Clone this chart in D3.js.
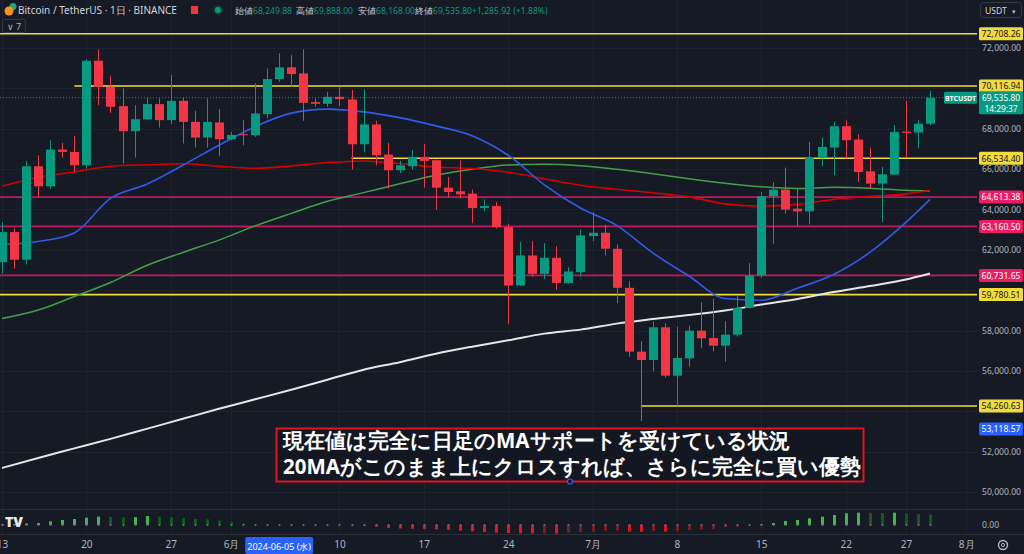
<!DOCTYPE html>
<html>
<head>
<meta charset="utf-8">
<script src="https://cdn.jsdelivr.net/npm/d3@7"></script>
<style>
html, body { margin: 0; padding: 0; background: #161a25; overflow: hidden; }
svg { display: block; }
text { font-family: "Noto Sans", "DejaVu Sans", sans-serif; }
</style>
</head>
<body>
<div id="chart"></div>
<script>
// BTCUSDT daily candles, 2024-05-13 .. 2024-07-29
const days = [
  "2024-05-13","2024-05-14","2024-05-15","2024-05-16","2024-05-17","2024-05-18","2024-05-19","2024-05-20","2024-05-21","2024-05-22",
  "2024-05-23","2024-05-24","2024-05-25","2024-05-26","2024-05-27","2024-05-28","2024-05-29","2024-05-30","2024-05-31","2024-06-01",
  "2024-06-02","2024-06-03","2024-06-04","2024-06-05","2024-06-06","2024-06-07","2024-06-08","2024-06-09","2024-06-10","2024-06-11",
  "2024-06-12","2024-06-13","2024-06-14","2024-06-15","2024-06-16","2024-06-17","2024-06-18","2024-06-19","2024-06-20","2024-06-21",
  "2024-06-22","2024-06-23","2024-06-24","2024-06-25","2024-06-26","2024-06-27","2024-06-28","2024-06-29","2024-06-30","2024-07-01",
  "2024-07-02","2024-07-03","2024-07-04","2024-07-05","2024-07-06","2024-07-07","2024-07-08","2024-07-09","2024-07-10","2024-07-11",
  "2024-07-12","2024-07-13","2024-07-14","2024-07-15","2024-07-16","2024-07-17","2024-07-18","2024-07-19","2024-07-20","2024-07-21",
  "2024-07-22","2024-07-23","2024-07-24","2024-07-25","2024-07-26","2024-07-27","2024-07-28","2024-07-29"
];
const opens = [
  61388,62878,61507,66140,65147,66969,66850,66190,71370,70078,
  69120,67878,68459,69219,68425,69383,68340,67565,68310,67481,
  67729,67680,68722,70460,71042,70741,69318,69234,69582,69450,
  67230,68211,66719,65942,66140,66603,66438,65080,64899,64783,
  64069,64168,63126,60230,61720,60810,61605,60346,60893,62681,
  62847,62053,60117,56954,56541,58160,55762,56620,57995,57630,
  57251,57797,59124,60727,64650,64983,64040,63905,66572,67068,
  68127,67465,65892,65281,65727,67860,67812,68249.88
];
const highs = [
  63374,63047,66400,66686,67431,67297,67630,71440,71935,70610,
  69999,69169,69552,69502,70659,69552,68886,69502,68971,67845,
  68425,70247,70992,71737,71652,71935,69502,69830,70110,69914,
  69949,68390,67297,66404,66935,67233,66470,65609,66438,64983,
  64487,64368,63291,62381,62430,62331,62170,61140,62997,63871,
  63242,62268,60445,57465,58458,58359,58193,58243,59402,59571,
  58458,59733,61338,64866,65360,66075,65030,67347,67565,68340,
  68425,67729,67069,66106,68176,69383,68425,69888
];
const lows = [
  60827,61060,61273,64616,65030,66572,65857,66026,69169,68787,
  66274,66572,68425,68062,68226,67268,67069,67069,66637,67431,
  67183,67596,68509,70327,70078,68390,69085,69085,69120,65976,
  66850,66190,65030,65807,65976,65083,63990,64588,64537,63325,
  63920,63050,58330,60200,60677,60562,60015,60330,60644,62430,
  61720,59352,56705,53510,55975,55677,54260.63,56209,57136,56967,
  56457,57698,59100,60612,62300,63791,63160,63260,66140,65693,
  66522,65360,65030,63374,65700,66572,67019,68168
];
const closes = [
  62878,61507,66140,65147,66969,66850,66190,71370,70078,69085,
  67878,68474,69219,68425,69383,68340,67565,68340,67481,67696,
  67680,68757,70460,71042,70709,69284,69234,69582,69467,67230,
  68211,66686,65942,66190,66603,66404,65080,64866,64750,64069,
  64168,63126,60230,61720,60810,61605,60363,60926,62714,62847,
  62053,60117,56954,56541,58160,55762,56640,57995,57614,57251,
  57797,59124,60727,64667,64983,63990,63905,66572,67099,68127,
  67431,65857,65281,65743,67844,67794,68249.88,69535.80
];

// moving averages, read every third day
const maDays = [
  "2024-05-13","2024-05-16","2024-05-19","2024-05-22","2024-05-25","2024-05-28","2024-05-31","2024-06-03","2024-06-06",
  "2024-06-09","2024-06-12","2024-06-15","2024-06-18","2024-06-21","2024-06-24","2024-06-27","2024-06-30","2024-07-03",
  "2024-07-06","2024-07-09","2024-07-12","2024-07-15","2024-07-18","2024-07-21","2024-07-24","2024-07-27","2024-07-29"
];
const ma20 = [62267,62416,62838,64551,65246,66190,67183,68102,68772,68971,68837,68549,68141,67655,66686,65221,64069,63210,61845,60702,59585,59501,60097,60777,61869,63359,64501];
const ma50 = [65147,65594,65857,66140,66215,66264,66140,66041,66155,66324,66403,66274,66105,66026,65842,65519,65197,64998,64824,64625,64278,64169,64253,64501,64650,64774,64948];
const ma100 = [58592,59014,59684,60380,61224,61869,62480,63185,63806,64402,64834,65271,65693,65991,66205,66239,66165,65991,65768,65519,65296,65122,65038,65097,65048,64948,64914];
const ma200 = [51192,51689,52161,52633,53129,53626,54122,54594,55066,55563,56059,56432,56854,57201,57514,57847,58046,58343,58567,58766,58989,59287,59560,59908,60206,60529,60826];

// lower pane histogram
const osc = [
  0.5,1.0,1.5,2.0,3.7,5.0,6.0,7.3,8.4,8.1,
  7.6,7.8,9.0,8.4,7.7,7.0,6.0,5.7,4.3,2.7,
  1.7,0.8,0.7,0.6,0.5,0.4,0.3,0.2,0.1,-0.3,
  -1.0,-1.7,-3.0,-3.5,-3.7,-3.9,-4.3,-5.0,-5.7,-6.3,
  -7.0,-7.7,-8.0,-8.2,-8.5,-8.3,-8.6,-7.7,-7.0,-6.7,
  -5.8,-5.6,-6.5,-6.8,-6.0,-6.6,-6.0,-5.0,-4.3,-4.0,
  -2.0,-1.7,-1.0,0.7,2.0,4.0,5.0,6.7,8.3,10.0,
  11.7,12.4,12.2,12.0,12.4,11.7,11.0,10.3
];

// horizontal levels drawn on the chart
const yellowLevels = [72708.26, 70116.94, 66534.40, 59780.51, 54260.63];
const yellowStarts = ["2024-05-08", "2024-05-19", "2024-06-11", "2024-05-08", "2024-07-05"];
const pinkLevels = [64613.38, 63160.50, 60731.65];

const priceTicks = d3.range(50000, 72001, 2000);
const tickDays = ["2024-05-13","2024-05-20","2024-05-27","2024-06-01","2024-06-10","2024-06-17","2024-06-24","2024-07-01","2024-07-08","2024-07-15","2024-07-22","2024-07-27","2024-08-01"];
const tickLabels = ["13","20","27","6月","10","17","24","7月","8","15","22","27","8月"];

const lastPrice = 69535.80;
const crossPrice = 53118.57;
const crossDay = "2024-06-05";

const width = 1024;
const height = 554;
const plotRight = 977;

const up = "#089981";
const down = "#f23645";
const yellow = "#efdb3b";
const pink = "#c2185b";
const axisFont = 8.6;

const parse = d3.utcParse("%Y-%m-%d");
const fmt = d3.format(",.2f");

const svg = d3.select("#chart").append("svg")
  .attr("width", width)
  .attr("height", height);

svg.append("rect").attr("width", width).attr("height", height).attr("fill", "#161a25");

const x = d3.scaleUtc()
  .domain([parse(days[0]), parse(days[days.length - 1])])
  .range([2, 930]);
const y = d3.scaleLinear().domain([50000, 72000]).range([492, 48]);
const yOsc = d3.scaleLinear().domain([-10, 14]).range([535, 511]);

svg.append("clipPath").attr("id", "plot")
  .append("rect").attr("x", 0).attr("y", 0).attr("width", plotRight).attr("height", 509);

// grid
const grid = svg.append("g").attr("stroke", "#1f2330").attr("stroke-width", 1);
grid.selectAll("line.h").data(priceTicks).enter().append("line")
  .attr("x1", 0).attr("x2", plotRight)
  .attr("y1", d => Math.round(y(d)) + 0.5).attr("y2", d => Math.round(y(d)) + 0.5);
grid.selectAll("line.v").data(tickDays).enter().append("line")
  .attr("x1", d => Math.round(x(parse(d))) + 0.5).attr("x2", d => Math.round(x(parse(d))) + 0.5)
  .attr("y1", 0).attr("y2", 534);

const plot = svg.append("g").attr("clip-path", "url(#plot)");

// levels
plot.selectAll("line.yl").data(yellowLevels).enter().append("line")
  .attr("x1", (d, i) => x(parse(yellowStarts[i])))
  .attr("x2", plotRight)
  .attr("y1", d => y(d)).attr("y2", d => y(d))
  .attr("stroke", yellow).attr("stroke-width", 1.6);
plot.selectAll("line.pl").data(pinkLevels).enter().append("line")
  .attr("x1", 0).attr("x2", plotRight)
  .attr("y1", d => y(d)).attr("y2", d => y(d))
  .attr("stroke", pink).attr("stroke-width", 1.6);

// current price dotted line
plot.append("line")
  .attr("x1", 0).attr("x2", plotRight)
  .attr("y1", y(lastPrice)).attr("y2", y(lastPrice))
  .attr("stroke", up).attr("stroke-width", 1).attr("stroke-dasharray", "1,2");

// moving averages
const maLine = d3.line()
  .x((d, i) => x(parse(maDays[i])))
  .y(d => y(d))
  .curve(d3.curveMonotoneX);
[[ma200, "#e6e6e6", 2], [ma100, "#43a047", 1.5], [ma50, "#d50000", 1.6], [ma20, "#2f5bea", 1.6]]
  .forEach(([vals, col, w]) => {
    plot.append("path").datum(vals)
      .attr("d", maLine)
      .attr("fill", "none")
      .attr("stroke", col)
      .attr("stroke-width", w);
  });

// candles
const candle = plot.append("g").selectAll("g").data(days).enter().append("g");
candle.append("line")
  .attr("x1", d => Math.round(x(parse(d))) + 0.5)
  .attr("x2", d => Math.round(x(parse(d))) + 0.5)
  .attr("y1", (d, i) => y(highs[i]))
  .attr("y2", (d, i) => y(lows[i]))
  .attr("stroke", (d, i) => closes[i] >= opens[i] ? up : down);
candle.append("rect")
  .attr("x", d => Math.round(x(parse(d))) - 4)
  .attr("width", 9)
  .attr("y", (d, i) => y(Math.max(opens[i], closes[i])))
  .attr("height", (d, i) => Math.max(1, Math.abs(y(opens[i]) - y(closes[i]))))
  .attr("fill", (d, i) => closes[i] >= opens[i] ? up : down);

// pane separators
svg.append("line").attr("x1", 0).attr("x2", width).attr("y1", 509.5).attr("y2", 509.5).attr("stroke", "#2a2e39");
svg.append("line").attr("x1", 0).attr("x2", width).attr("y1", 534.5).attr("y2", 534.5).attr("stroke", "#2a2e39");

// lower pane histogram
const oscColor = (d, i) => {
  const prev = i > 0 ? osc[i - 1] : 0;
  if (d >= 0) return d >= prev ? "#43b549" : "#0f5a1c";
  return d <= prev ? "#e3161f" : "#7a1c20";
};
svg.append("g").selectAll("rect").data(osc).enter().append("rect")
  .attr("x", (d, i) => Math.round(x(parse(days[i]))) - 1)
  .attr("width", 3)
  .attr("y", d => Math.min(yOsc(d), yOsc(0)))
  .attr("height", d => Math.max(0.8, Math.abs(yOsc(d) - yOsc(0))))
  .attr("fill", oscColor);
svg.append("g").selectAll("circle").data(osc).enter().append("circle")
  .attr("cx", (d, i) => Math.round(x(parse(days[i]))) + 0.5)
  .attr("cy", yOsc(0))
  .attr("r", 1)
  .attr("fill", "#6a6d78");

// TradingView logo
svg.append("text").attr("x", 5).attr("y", 527)
  .attr("font-size", 14).attr("font-weight", 900).attr("fill", "#e8e8e8")
  .attr("font-family", "DejaVu Sans").text("TV");

// price axis: plain ticks, hidden where a level tag covers them
const tagValues = yellowLevels.concat(pinkLevels, [crossPrice, lastPrice]);
const freeTicks = priceTicks.filter(t => !tagValues.some(v => Math.abs(y(v) - y(t)) < 9));
const yAxis = svg.append("g")
  .attr("transform", `translate(${plotRight + 2},0)`)
  .call(d3.axisRight(y).tickValues(freeTicks).tickSize(0).tickFormat(fmt));
yAxis.select(".domain").remove();
yAxis.selectAll("text").attr("font-size", axisFont).attr("fill", "#b2b5be")
  .attr("font-family", "Noto Sans");

svg.append("text").attr("x", 982).attr("y", 528)
  .attr("font-size", axisFont).attr("fill", "#b2b5be").text("0.00");

// level labels on the axis
const tag = (val, bg, fg) => {
  const g = svg.append("g");
  g.append("rect").attr("x", 979).attr("y", y(val) - 6.5).attr("width", 44).attr("height", 13)
    .attr("rx", 1.5).attr("fill", bg);
  g.append("text").attr("x", 1001).attr("y", y(val) + 3.2).attr("text-anchor", "middle")
    .attr("font-size", axisFont).attr("fill", fg).text(fmt(val));
};
yellowLevels.forEach(v => tag(v, yellow, "#131722"));
pinkLevels.forEach(v => tag(v, "#e91e63", "#ffffff"));
tag(crossPrice, "#2962ff", "#ffffff");

// last price tag
svg.append("rect").attr("x", 944).attr("y", y(lastPrice) - 6).attr("width", 33).attr("height", 12)
  .attr("rx", 1.5).attr("fill", up);
svg.append("text").attr("x", 960.5).attr("y", y(lastPrice) + 2.8).attr("text-anchor", "middle")
  .attr("font-size", 7).attr("font-weight", 700).attr("fill", "#fff").text("BTCUSDT");
svg.append("rect").attr("x", 979).attr("y", y(lastPrice) - 6.5).attr("width", 44).attr("height", 23)
  .attr("rx", 1.5).attr("fill", up);
svg.append("text").attr("x", 1001).attr("y", y(lastPrice) + 3).attr("text-anchor", "middle")
  .attr("font-size", 8.4).attr("fill", "#fff").text(fmt(lastPrice));
svg.append("text").attr("x", 1001).attr("y", y(lastPrice) + 14).attr("text-anchor", "middle")
  .attr("font-size", 8.4).attr("fill", "#fff").text("14:29:37");

// time axis
const xAxis = svg.append("g")
  .attr("transform", "translate(0,539)")
  .call(d3.axisBottom(x).tickValues(tickDays.map(parse)).tickSize(0)
    .tickFormat((d, i) => tickLabels[i]));
xAxis.select(".domain").remove();
xAxis.selectAll("text").attr("font-size", 10).attr("fill", "#b2b5be").attr("dy", "0.6em");

// crosshair date label
const cx = x(parse(crossDay));
svg.append("rect").attr("x", cx - 34).attr("y", 537).attr("width", 68).attr("height", 17)
  .attr("rx", 2).attr("fill", "#2962ff");
svg.append("text").attr("x", cx).attr("y", 549.5).attr("text-anchor", "middle")
  .attr("font-size", 9).attr("fill", "#fff").text("2024-06-05 (水)");

// settings icon
svg.append("circle").attr("cx", 1003).attr("cy", 545).attr("r", 4.5)
  .attr("fill", "none").attr("stroke", "#b2b5be").attr("stroke-width", 1.4);
svg.append("circle").attr("cx", 1003).attr("cy", 545).attr("r", 1.6)
  .attr("fill", "none").attr("stroke", "#b2b5be").attr("stroke-width", 1);

// annotation
svg.append("rect").attr("x", 276.5).attr("y", 428.5).attr("width", 587).attr("height", 53)
  .attr("fill", "#131722").attr("stroke", "#e0141c").attr("stroke-width", 2);
const note = svg.append("text").attr("font-size", 20.5).attr("font-weight", 700).attr("fill", "#ffffff")
  .attr("font-family", "Noto Sans CJK JP");
note.append("tspan").attr("x", 283).attr("y", 448).text("現在値は完全に日足のMAサポートを受けている状況");
note.append("tspan").attr("x", 283).attr("y", 474).text("20MAがこのまま上にクロスすれば、さらに完全に買い優勢");
svg.append("circle").attr("cx", 570).attr("cy", 481.5).attr("r", 2.5)
  .attr("fill", "#131722").attr("stroke", "#2962ff").attr("stroke-width", 1.2);

// header
svg.append("circle").attr("cx", 13).attr("cy", 6.5).attr("r", 3.5).attr("fill", "#26a17b");
svg.append("circle").attr("cx", 9).attr("cy", 11).attr("r", 4.5).attr("fill", "#f7931a");
svg.append("text").attr("x", 18).attr("y", 14).attr("font-size", 10).attr("fill", "#d1d4dc")
  .text("Bitcoin / TetherUS · 1日 · BINANCE");
svg.append("rect").attr("x", 191).attr("y", 6).attr("width", 7).attr("height", 8).attr("fill", down);
svg.append("circle").attr("cx", 218).attr("cy", 10).attr("r", 5).attr("fill", "#0b3b33");
svg.append("circle").attr("cx", 218).attr("cy", 10).attr("r", 3).attr("fill", up);

const ohlcNames = ["始値", "高値", "安値", "終値"];
const ohlcVals = [opens[77], highs[77], lows[77], closes[77]];
const ohlcX = [235, 296, 358, 415];
ohlcNames.forEach((n, i) => {
  const t = svg.append("text").attr("x", ohlcX[i]).attr("y", 14).attr("font-size", 8.6);
  t.append("tspan").attr("fill", "#d1d4dc").text(n);
  t.append("tspan").attr("fill", up).text(fmt(ohlcVals[i]));
});
svg.append("text").attr("x", 472).attr("y", 14).attr("font-size", 8.6).attr("fill", up)
  .text("+1,285.92 (+1.88%)");

svg.append("rect").attr("x", 2.5).attr("y", 19.5).attr("width", 23).attr("height", 13).attr("rx", 2)
  .attr("fill", "#161a25").attr("stroke", "#363a45");
svg.append("text").attr("x", 7).attr("y", 29.5).attr("font-size", 9).attr("fill", "#b2b5be").text("∨ 7");

svg.append("rect").attr("x", 980.5).attr("y", 2.5).attr("width", 41).attr("height", 15).attr("rx", 3)
  .attr("fill", "#161a25").attr("stroke", "#363a45");
svg.append("text").attr("x", 985).attr("y", 13.5).attr("font-size", 8.6).attr("fill", "#d1d4dc").text("USDT");
svg.append("text").attr("x", 1012).attr("y", 13.5).attr("font-size", 7).attr("fill", "#b2b5be").text("▾");
</script>
</body>
</html>
